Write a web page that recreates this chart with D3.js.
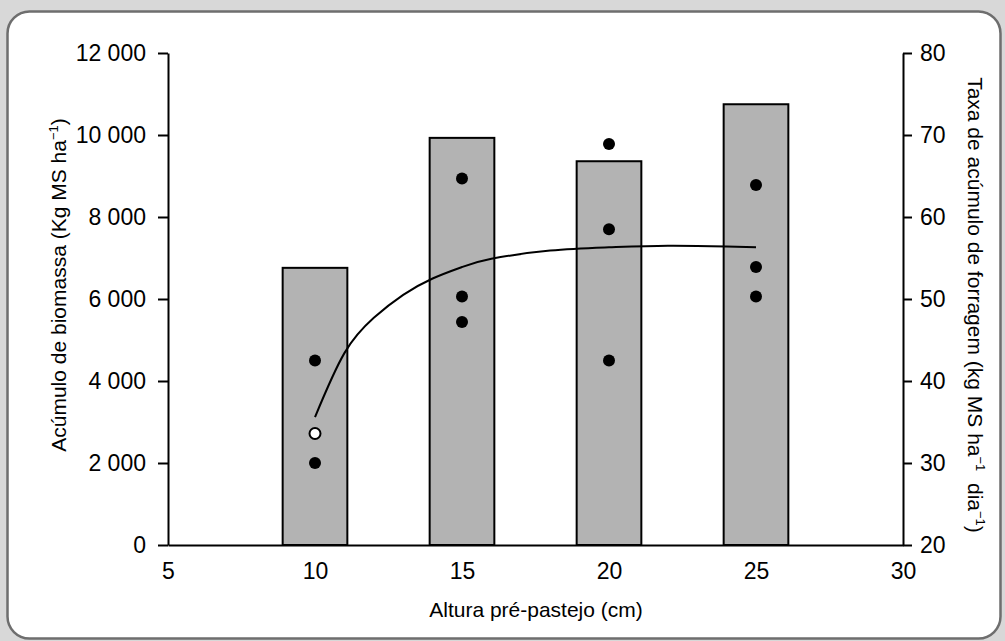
<!DOCTYPE html>
<html>
<head>
<meta charset="utf-8">
<script src="https://cdn.jsdelivr.net/npm/d3@7"></script>
<style>
  html, body { margin: 0; padding: 0; background: #d8d8d8; }
  svg { display: block; font-family: "Liberation Sans", Arial, sans-serif; }
  .axis path, .axis line { stroke: #000; stroke-width: 2; }
  .axis text { font-size: 23px; fill: #000; }
  .title { font-size: 21px; fill: #000; white-space: pre; }
</style>
</head>
<body>
<svg id="chart" width="1005" height="641"></svg>
<script>
// ---------- Data ----------
const heights = [10, 15, 20, 25];                 // Altura pré-pastejo (cm)
const biomass = [6760, 9930, 9360, 10750];        // Acúmulo de biomassa (kg MS/ha)

// Taxa de acúmulo (right axis), individual observations
const obsHeight = [10, 10, 15, 15, 15, 20, 20, 20, 25, 25, 25];
const obsRate   = [42.5, 30.0, 64.7, 50.3, 47.2, 68.9, 58.5, 42.5, 63.9, 53.9, 50.3];
// open marker
const openHeight = [10];
const openRate   = [33.6];

// fitted curve
const fitHeight = [10, 11, 12, 13, 14, 15, 16, 18, 20, 22, 24, 25];
const fitRate   = [35.6, 43.4, 47.7, 50.5, 52.5, 53.9, 54.9, 55.9, 56.3, 56.5, 56.4, 56.3];

const xTicks = [5, 10, 15, 20, 25, 30];
const yLeftTicks = [0, 2000, 4000, 6000, 8000, 10000, 12000];
const yRightTicks = [20, 30, 40, 50, 60, 70, 80];

// ---------- Chart ----------
const svg = d3.select('#chart');

// rounded white panel
svg.append('rect')
  .attr('x', 7.5).attr('y', 11.5).attr('width', 993).attr('height', 627)
  .attr('rx', 22).attr('ry', 22)
  .attr('fill', '#fff').attr('stroke', '#6e6e6e').attr('stroke-width', 2.5);

const x = d3.scaleLinear().domain([5, 30]).range([168, 903]);
const yL = d3.scaleLinear().domain([0, 12000]).range([545, 53]);
const yR = d3.scaleLinear().domain([20, 80]).range([545, 53]);
const barHalf = 1.1; // in cm units

const fmt = d => d3.format(',')(d).replace(/,/g, ' ');

// bars
svg.append('g').selectAll('rect').data(heights).join('rect')
  .attr('x', (d) => x(d - barHalf))
  .attr('y', (d, i) => yL(biomass[i]))
  .attr('width', (d) => x(d + barHalf) - x(d - barHalf))
  .attr('height', (d, i) => yL(0) - yL(biomass[i]))
  .attr('fill', '#b3b3b3').attr('stroke', '#000').attr('stroke-width', 2);

// axes
svg.append('g').attr('class', 'axis').attr('transform', `translate(0,${yL(0)})`)
  .call(d3.axisBottom(x).tickValues(xTicks).tickSize(0).tickSizeOuter(0).tickPadding(18).tickFormat(d3.format('d')));

svg.append('g').attr('class', 'axis').attr('transform', `translate(${x(5)},0)`)
  .call(d3.axisLeft(yL).tickValues(yLeftTicks).tickSize(10).tickSizeOuter(0).tickPadding(12).tickFormat(fmt));

svg.append('g').attr('class', 'axis').attr('transform', `translate(${x(30)},0)`)
  .call(d3.axisRight(yR).tickValues(yRightTicks).tickSize(9).tickSizeOuter(0).tickPadding(8).tickFormat(d3.format('d')));

svg.selectAll('.axis').attr('font-size', null).attr('font-family', null);

// fitted curve
const line = d3.line()
  .x((d, i) => x(fitHeight[i]))
  .y((d, i) => yR(fitRate[i]))
  .curve(d3.curveNatural);
svg.append('path').datum(fitHeight)
  .attr('d', line).attr('fill', 'none').attr('stroke', '#000').attr('stroke-width', 2);

// observations
svg.append('g').selectAll('circle').data(obsHeight).join('circle')
  .attr('cx', d => x(d)).attr('cy', (d, i) => yR(obsRate[i]))
  .attr('r', 6).attr('fill', '#000');

svg.append('g').selectAll('circle').data(openHeight).join('circle')
  .attr('cx', d => x(d)).attr('cy', (d, i) => yR(openRate[i]))
  .attr('r', 5.5).attr('fill', '#fff').attr('stroke', '#000').attr('stroke-width', 2);

// titles
svg.append('text').attr('class', 'title')
  .attr('x', 536).attr('y', 617).attr('text-anchor', 'middle')
  .text('Altura pré-pastejo (cm)');

const tl = svg.append('text').attr('class', 'title')
  .attr('transform', 'translate(66,285) rotate(-90)').attr('text-anchor', 'middle');
tl.append('tspan').text('Acúmulo de biomassa (Kg MS ha');
tl.append('tspan').attr('dy', -8).attr('font-size', 13).text('−1');
tl.append('tspan').attr('dy', 8).text(')');

const tr = svg.append('text').attr('class', 'title')
  .attr('transform', 'translate(968,305) rotate(90)').attr('text-anchor', 'middle');
tr.append('tspan').text('Taxa de acúmulo de forragem (kg MS ha');
tr.append('tspan').attr('dy', -8).attr('font-size', 13).text('−1');
tr.append('tspan').attr('dy', 8).text('  dia');
tr.append('tspan').attr('dy', -8).attr('font-size', 13).text('−1');
tr.append('tspan').attr('dy', 8).text(')');
</script>
</body>
</html>
